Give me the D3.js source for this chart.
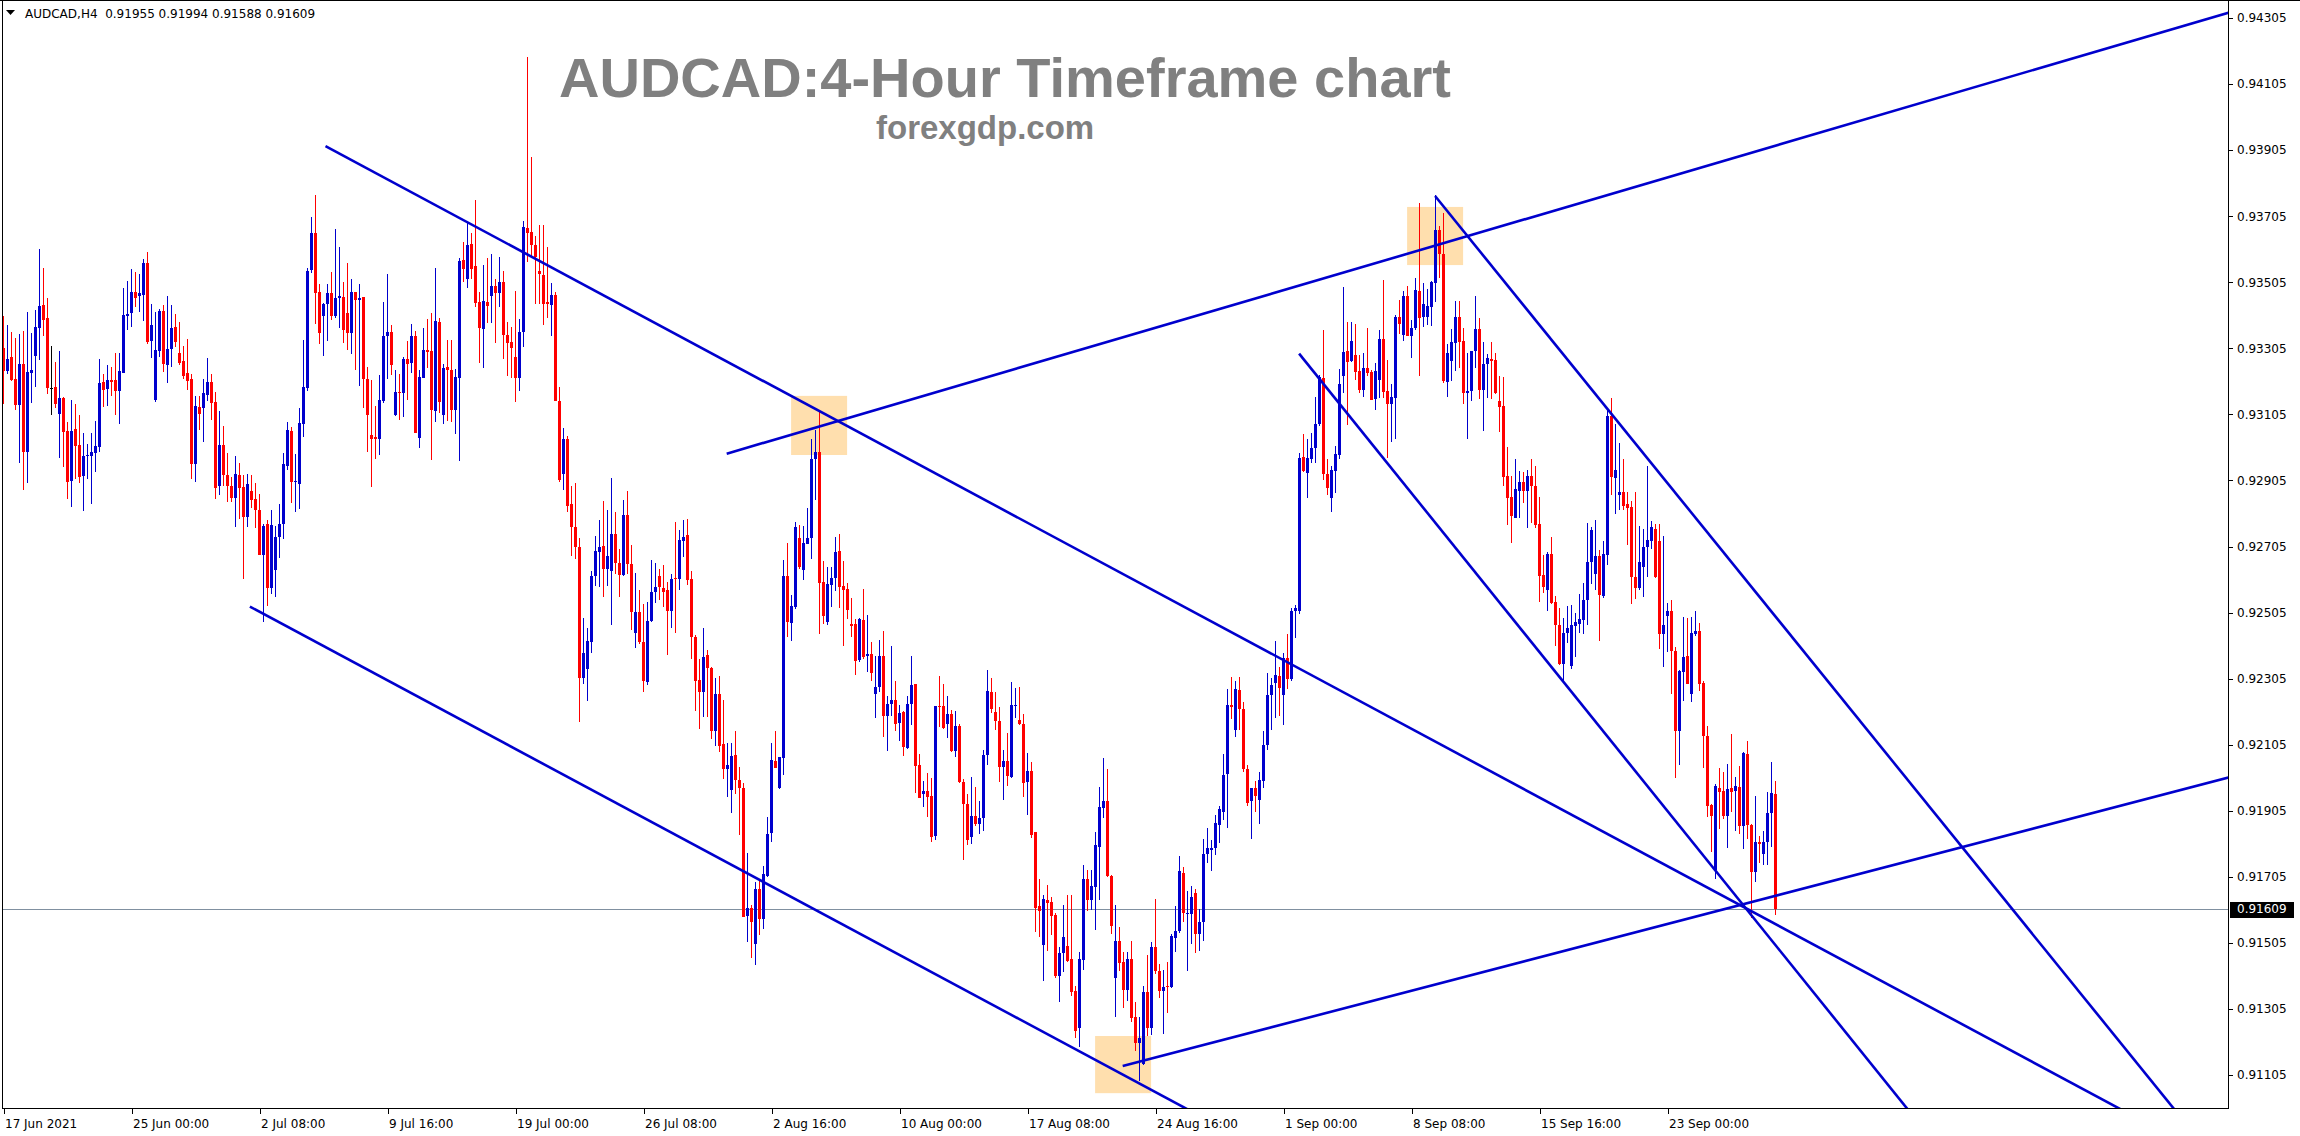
<!DOCTYPE html>
<html><head><meta charset="utf-8">
<script src="https://cdn.jsdelivr.net/npm/d3@7"></script>
<style>html,body{margin:0;padding:0;background:#fff;overflow:hidden}</style>
</head><body>
<svg id="chart" width="2300" height="1136"></svg>
<script>
const symbolInfo = "AUDCAD,H4  0.91955 0.91994 0.91588 0.91609";
const chartTitle = "AUDCAD:4-Hour Timeframe chart";
const chartSite = "forexgdp.com";
// prices in points (x 1e-5)
const opens = [93307,93237,93279,93212,93134,93257,92992,93230,93282,93367,
93436,93396,93186,93187,93107,93155,93055,92904,93060,93012,
92919,92979,92980,92989,93007,93203,93182,93209,93209,93175,
93231,93402,93412,93475,93462,93467,93563,93328,93148,93297,
93418,93254,93304,93369,93290,93266,93230,93212,92955,93127,
93125,93164,93203,93142,92889,93013,92922,92889,92853,92922,
92886,92793,92873,92849,92816,92678,92774,92578,92635,92734,
92772,92950,93055,92899,92893,93077,93184,93543,93653,93476,
93403,93438,93473,93403,93456,93461,93412,93352,93476,93450,
93461,93211,93042,93035,93029,93144,93341,93355,93102,93173,
93171,93273,93262,93343,93032,93216,93300,93297,93114,93385,
93102,93249,93240,93118,93216,93571,93515,93622,93553,93445,
93362,93445,93462,93494,93471,93506,93345,93325,93278,93216,
93354,93670,93657,93619,93539,93526,93445,93435,93465,93145,
92925,93029,92833,92763,92703,92306,92333,92416,92616,92689,
92706,92636,92632,92743,92656,92619,92799,92652,92443,92507,
92417,92294,92479,92566,92616,92580,92573,92510,92610,92606,
92722,92739,92606,92431,92300,92265,92377,92336,92146,92258,
92106,92031,91969,92073,91998,91974,91586,91610,91502,91667,
91577,91707,91838,92056,91974,92065,92615,92474,92521,92730,
92633,92713,92730,92969,92990,92597,92476,92588,92610,92691,
92585,92575,92470,92470,92361,92482,92375,92381,92258,92279,
92375,92192,92228,92240,92172,92205,92094,92227,92289,92044,
91956,91965,91950,91829,92222,92222,92168,92198,92087,92162,
91991,91925,91827,91889,91865,91884,92074,92266,92205,92177,
92036,92056,92006,92223,92180,92168,91993,92025,91842,91617,
91499,91635,91630,91590,91405,91474,91496,91455,91358,91247,
91453,91699,91635,91675,91796,91914,91934,91707,91399,91512,
91447,91361,91455,91280,91201,91139,91356,91248,91493,91420,
91358,91374,91371,91520,91540,91718,91593,91593,91655,91532,
91569,91775,91785,91791,91861,91901,92015,92226,92148,92270,
92213,92031,91934,91974,91939,91995,92104,92255,92291,92312,
92255,92367,92304,92510,92510,92975,92928,92969,93004,93077,
93215,92925,92853,92935,92983,93220,93297,93267,93285,93235,
93179,93245,93232,93151,93210,93334,93176,93137,93156,93401,
93346,93462,93341,93368,93479,93399,93401,93429,93504,93662,
93591,93202,93267,93321,93401,93326,93171,93176,93297,93364,
93179,93258,93273,93270,93146,93129,92919,92856,92791,92872,
92899,92872,92917,92889,92773,92619,92574,92682,92536,92468,
92350,92444,92344,92463,92471,92482,92544,92657,92621,92677,
92556,92680,93101,92912,92861,92869,92834,92825,92612,92580,
92642,92702,92722,92758,92723,92441,92495,92509,92390,92147,
92326,92374,92257,92441,92450,92293,92131,91922,91726,91974,
91966,91890,91974,91966,91976,91858,92077,91861,91720,91810,
91774,91810,91899,91955];
const highs = [93402,93375,93354,93337,93348,93357,93414,93351,93422,93605,
93548,93457,93312,93264,93296,93158,93083,93148,93137,93103,
93049,93015,93049,93086,93273,93228,93254,93248,93290,93291,
93487,93509,93545,93537,93531,93575,93596,93440,93416,93424,
93436,93463,93436,93409,93384,93312,93333,93227,93160,93160,
93212,93276,93226,93172,93116,93070,92988,92914,92980,92957,
92921,92925,92920,92897,92865,92774,92786,92815,92766,92834,
92989,93082,93067,92986,93125,93331,93548,93704,93768,93500,
93441,93499,93535,93667,93613,93507,93564,93515,93476,93500,
93461,93247,93210,93131,93223,93444,93530,93376,93240,93228,
93280,93328,93379,93358,93240,93367,93395,93412,93549,93396,
93259,93329,93329,93242,93578,93627,93686,93655,93754,93474,
93557,93578,93590,93515,93582,93539,93386,93369,93478,93395,
93691,94188,93883,93646,93677,93677,93611,93502,93475,93189,
93063,93041,92889,92896,92732,92490,92459,92630,92736,92785,
92843,92816,92913,92809,92696,92845,92873,92710,92626,92572,
92532,92536,92663,92656,92636,92649,92599,92622,92778,92756,
92784,92787,92631,92437,92364,92458,92391,92339,92308,92314,
92241,92110,92110,92146,92036,91989,91776,91619,91690,91692,
91739,91885,92110,92146,92067,92663,92715,92558,92778,92771,
92767,92821,93030,93058,93114,92661,92644,92644,92734,92743,
92661,92594,92549,92487,92489,92575,92498,92417,92373,92423,
92448,92252,92404,92298,92225,92208,92252,92374,92289,92077,
91995,92020,92005,92222,92313,92289,92252,92210,92207,92167,
92000,91956,92008,91976,91936,92089,92331,92308,92266,92220,
92089,92139,92295,92276,92281,92198,92079,92053,91842,91699,
91650,91680,91645,91595,91492,91620,91650,91650,91373,91476,
91741,91726,91726,91840,91978,92064,92031,91710,91621,91553,
91476,91476,91512,91326,91280,91374,91467,91509,91637,91442,
91423,91447,91532,91618,91768,91734,91661,91677,91669,91609,
91820,91853,91815,91893,91918,92077,92274,92310,92299,92310,
92234,92044,91974,91995,92023,92145,92323,92307,92420,92339,
92383,92441,92518,92529,92988,93045,93029,93048,93158,93223,
93361,92969,92949,93008,93242,93492,93386,93386,93379,93285,
93290,93368,93240,93260,93361,93512,93270,93197,93406,93452,
93477,93494,93391,93517,93746,93504,93485,93510,93770,93674,
93716,93318,93364,93447,93447,93366,93290,93297,93462,93398,
93324,93288,93323,93290,93220,93217,93005,92917,92970,92935,
92932,92937,92970,92950,92856,92680,92688,92733,92556,92520,
92490,92526,92528,92504,92560,92594,92776,92763,92785,92693,
92722,93120,93155,93077,93017,92971,92871,92844,92871,92767,
92758,92949,92782,92772,92772,92736,92534,92542,92401,92331,
92493,92488,92493,92509,92474,92299,92161,91926,91985,92034,
92023,92048,92136,92007,92039,92084,92115,91864,91949,91830,
91845,91963,92052,91994];
const lows = [93135,93227,93206,93119,92958,92877,92896,93140,93189,93269,
93343,93167,93104,93125,92974,92946,92849,92825,92910,92898,
92813,92910,92834,92931,92990,93128,93131,93160,93104,93075,
93231,93361,93370,93431,93415,93388,93318,93276,93142,93279,
93233,93200,93249,93310,93255,93213,93178,92910,92901,93058,
93022,93144,93088,92850,92862,92887,92841,92840,92763,92788,
92608,92765,92823,92760,92678,92475,92524,92560,92551,92669,
92729,92937,92838,92809,92818,93035,93177,93532,93379,93317,
93283,93328,93391,93396,93367,93322,93300,93288,93240,93192,
93125,92990,92884,92971,92981,93138,93213,93223,93099,93087,
93096,93150,93230,93050,93002,93216,93244,92968,93083,93109,
93077,93086,93082,93047,92963,93507,93489,93515,93431,93260,
93246,93381,93382,93322,93431,93273,93220,93216,93142,93176,
93308,93565,93582,93438,93438,93376,93396,93342,93145,92899,
92876,92809,92676,92666,92173,92290,92237,92383,92586,92583,
92552,92586,92467,92623,92552,92615,92623,92452,92397,92410,
92263,92287,92476,92535,92543,92523,92377,92459,92442,92572,
92673,92588,92364,92207,92153,92190,92188,92123,92101,92084,
92000,91947,91899,91955,91832,91583,91507,91459,91437,91530,
91546,91703,91810,92034,91972,92013,92431,92420,92515,92638,
92603,92713,92666,92846,92440,92470,92468,92521,92569,92519,
92403,92485,92431,92317,92356,92364,92325,92297,92185,92263,
92129,92087,92192,92145,92117,92071,92091,92165,91960,91943,
91917,91887,91810,91817,92158,92152,92126,92082,92069,91990,
91756,91801,91805,91859,91835,91845,92044,92202,92148,91993,
91938,91981,92003,92187,92165,91948,91892,91824,91538,91524,
91391,91479,91529,91398,91327,91418,91448,91344,91216,91191,
91423,91600,91605,91544,91635,91884,91703,91532,91282,91420,
91309,91330,91264,91178,91087,91134,91223,91227,91410,91337,
91228,91293,91369,91476,91535,91569,91420,91501,91475,91480,
91512,91747,91723,91772,91807,91877,91853,92182,92128,92148,
92023,91918,91820,91901,91866,91974,92088,92148,92185,92193,
92164,92274,92299,92429,92501,92931,92853,92959,92959,93069,
92907,92860,92808,92867,92969,93169,93073,93265,93210,93171,
93159,93220,93149,93119,93154,93154,92974,93020,93031,93349,
93326,93341,93277,93361,93220,93369,93376,93374,93444,93517,
93200,93159,93205,93235,93245,93136,93030,93146,93245,93151,
93056,93154,93152,93166,93053,92889,92769,92717,92791,92791,
92836,92761,92776,92761,92536,92564,92509,92531,92404,92347,
92299,92412,92333,92369,92444,92439,92468,92590,92574,92420,
92549,92650,92861,92804,92817,92815,92709,92531,92547,92574,
92553,92612,92698,92610,92396,92340,92385,92257,92003,92044,
92236,92288,92234,92434,92268,92034,91886,91780,91699,91850,
91879,91793,91901,91845,91834,91790,91818,91580,91688,91747,
91742,91742,91796,91588];
const closes = [93236,93272,93209,93134,93259,92992,93233,93239,93369,93433,
93391,93185,93186,93135,93154,93052,92901,93055,93010,92916,
92979,92982,92991,93009,93200,93180,93210,93203,93176,93236,
93405,93409,93475,93458,93472,93563,93324,93375,93299,93418,
93257,93302,93367,93324,93260,93222,93207,92955,93131,93107,
93169,93203,93140,92883,93012,92922,92887,92853,92924,92881,
92795,92895,92847,92814,92678,92768,92578,92771,92734,92774,
92955,93058,92899,92902,93079,93188,93540,93653,93471,93352,
93438,93473,93403,93458,93464,93359,93352,93476,93450,93458,
93211,93102,93029,93029,93149,93343,93355,93253,93173,93171,
93273,93259,93343,93050,93219,93300,93295,93117,93388,93141,
93246,93238,93118,93218,93569,93546,93618,93546,93442,93365,
93449,93434,93494,93471,93506,93345,93322,93306,93216,93354,
93673,93655,93619,93582,93529,93439,93439,93465,93145,92905,
93029,92829,92763,92703,92306,92383,92419,92616,92692,92703,
92636,92676,92743,92656,92619,92799,92652,92507,92507,92417,
92297,92479,92566,92583,92583,92566,92510,92606,92606,92725,
92734,92603,92431,92297,92265,92370,92336,92146,92258,92101,
92031,92043,92071,91998,91974,91583,91610,91569,91667,91577,
91714,91835,92059,92034,92067,92615,92476,92524,92764,92644,
92715,92730,92969,92990,92594,92495,92591,92610,92689,92582,
92573,92513,92465,92358,92485,92370,92381,92323,92279,92375,
92193,92228,92240,92167,92200,92097,92227,92286,92039,91943,
91965,91948,91827,92222,92220,92157,92198,92087,92162,91993,
91925,91815,91889,91865,91882,92074,92268,92213,92177,92036,
92056,92010,92225,92225,92167,91990,92025,91832,91612,91600,
91638,91625,91587,91405,91474,91524,91450,91355,91238,91456,
91699,91635,91677,91801,91917,91935,91707,91556,91512,91444,
91361,91455,91277,91201,91217,91356,91248,91493,91420,91358,
91371,91371,91525,91540,91723,91596,91596,91645,91532,91569,
91775,91793,91791,91869,91909,92012,92226,92218,92274,92213,
92031,91929,91974,91950,91999,92104,92255,92286,92315,92278,
92368,92304,92510,92518,92972,92935,92972,93004,93077,93218,
92923,92882,92937,92986,93196,93294,93265,93328,93232,93179,
93245,93230,93149,93237,93334,93174,93137,93159,93401,93379,
93462,93341,93368,93482,93396,93440,93432,93507,93662,93590,
93205,93290,93324,93401,93323,93171,93177,93297,93364,93179,
93258,93277,93267,93169,93126,92914,92851,92796,92880,92900,
92872,92917,92889,92771,92616,92582,92682,92533,92466,92350,
92444,92458,92468,92477,92486,92544,92657,92756,92677,92558,
92682,93101,92915,92938,92871,92828,92823,92612,92580,92657,
92704,92724,92763,92614,92441,92468,92509,92390,92147,92329,
92371,92290,92444,92450,92288,92131,91918,91888,91980,91963,
91890,91972,91963,91980,91858,92079,91861,91720,91810,91803,
91810,91899,91960,91609];
const timeLabels = ["17 Jun 2021","25 Jun 00:00","2 Jul 08:00","9 Jul 16:00","19 Jul 00:00","26 Jul 08:00","2 Aug 16:00","10 Aug 00:00","17 Aug 08:00","24 Aug 16:00","1 Sep 00:00","8 Sep 08:00","15 Sep 16:00","23 Sep 00:00"];
const timeLabelBars = [0,32,64,96,128,160,192,224,256,288,320,352,384,416];
const priceTicks = [0.91105,0.91305,0.91505,0.91705,0.91905,0.92105,0.92305,0.92505,0.92705,0.92905,0.93105,0.93305,0.93505,0.93705,0.93905,0.94105,0.94305];
const lastPrice = 0.91609;
// trend lines: [bar1, price1, bar2, price2] (rays to the right)
const trendBar1 = [80.5, 61.6, 180.8, 279.8, 323.9, 357.9];
const trendPrice1 = [0.93917, 0.92523, 0.92986, 0.91132, 0.93289, 0.93766];
const trendBar2 = [208.1, 293.1, 555.9, 446.6, 439.95, 446.6];
const trendPrice2 = [0.93088, 0.91020, 0.94320, 0.91659, 0.91544, 0.92439];
// highlight rectangles: bar from/to, price top/bottom
const boxBarFrom = [196.9, 350.9, 272.9];
const boxBarTo = [210.9, 364.9, 286.9];
const boxPriceTop = [0.93161, 0.93733, 0.91223];
const boxPriceBottom = [0.92982, 0.93557, 0.91050];

const plotLeft = 2, plotTop = 1, plotRight = 2228, plotBottom = 1108;
const svg = d3.select("#chart");
const x = d3.scaleLinear().domain([0, 443]).range([3.5, 1775.5]);
const y = d3.scaleLinear().domain([0.91105, 0.94305]).range([1075, 18]);
const P = v => v / 1e5;
const bars = d3.range(opens.length).map(i => ({i, o: P(opens[i]), h: P(highs[i]), l: P(lows[i]), c: P(closes[i])}));
const colUp = "#0000cd", colDn = "#ff0000";
const color = d => d.c > d.o ? colUp : (d.c < d.o ? colDn : "#000000");
const font = "'DejaVu Sans', sans-serif";

svg.append("rect").attr("width", 2300).attr("height", 1136).attr("fill", "#fff");
svg.append("defs").append("clipPath").attr("id", "plotclip").append("rect")
  .attr("x", plotLeft).attr("y", plotTop).attr("width", plotRight - plotLeft).attr("height", plotBottom - plotTop);
const plot = svg.append("g").attr("clip-path", "url(#plotclip)");

// highlight boxes
plot.selectAll("rect.box").data(d3.range(boxBarFrom.length)).join("rect").attr("class", "box")
  .attr("x", k => x(boxBarFrom[k])).attr("width", k => x(boxBarTo[k]) - x(boxBarFrom[k]))
  .attr("y", k => y(boxPriceTop[k])).attr("height", k => y(boxPriceBottom[k]) - y(boxPriceTop[k]))
  .attr("fill", "#ffdfae");

// title texts
svg.append("text").attr("x", 559).attr("y", 97).text(chartTitle)
  .attr("font-family", "'Liberation Sans', Arial, sans-serif").attr("font-weight", "bold")
  .attr("font-size", 56).attr("fill", "#808080");
svg.append("text").attr("x", 876).attr("y", 139).text(chartSite)
  .attr("font-family", "'Liberation Sans', Arial, sans-serif").attr("font-weight", "bold")
  .attr("font-size", 33).attr("fill", "#808080");

// last price line
plot.append("line").attr("x1", plotLeft).attr("x2", plotRight)
  .attr("y1", Math.round(y(lastPrice)) + 0.5).attr("y2", Math.round(y(lastPrice)) + 0.5)
  .attr("stroke", "#8090a0").attr("stroke-width", 1);

// candles
plot.selectAll("line.wick").data(bars).join("line").attr("class", "wick")
  .attr("x1", d => x(d.i)).attr("x2", d => x(d.i))
  .attr("y1", d => y(d.h)).attr("y2", d => y(d.l))
  .attr("stroke", color).attr("stroke-width", 1).attr("shape-rendering", "crispEdges");
plot.selectAll("rect.body").data(bars).join("rect").attr("class", "body")
  .attr("x", d => x(d.i) - 1.5).attr("width", 3)
  .attr("y", d => y(Math.max(d.o, d.c)))
  .attr("height", d => Math.max(1, Math.abs(y(d.o) - y(d.c))))
  .attr("fill", color).attr("shape-rendering", "crispEdges");

// trend lines (rays)
const barEnd = x.invert(plotRight + 20);
plot.selectAll("line.trend").data(d3.range(trendBar1.length)).join("line").attr("class", "trend")
  .attr("x1", k => x(trendBar1[k])).attr("y1", k => y(trendPrice1[k]))
  .attr("x2", x(barEnd))
  .attr("y2", k => y(trendPrice1[k] + (trendPrice2[k] - trendPrice1[k]) / (trendBar2[k] - trendBar1[k]) * (barEnd - trendBar1[k])))
  .attr("stroke", colUp).attr("stroke-width", 2.6);

// frame
const frame = svg.append("g").attr("stroke", "#000").attr("stroke-width", 1).attr("shape-rendering", "crispEdges");
frame.append("line").attr("x1", 0).attr("x2", 2300).attr("y1", 0.5).attr("y2", 0.5);
frame.append("line").attr("x1", 2.5).attr("x2", 2.5).attr("y1", 0).attr("y2", plotBottom);
frame.append("line").attr("x1", plotRight + 0.5).attr("x2", plotRight + 0.5).attr("y1", 0).attr("y2", plotBottom + 1);
frame.append("line").attr("x1", 2).attr("x2", plotRight + 1).attr("y1", plotBottom + 0.5).attr("y2", plotBottom + 0.5);

// right price axis
const yAxis = svg.append("g").attr("transform", `translate(${plotRight + 1},0)`)
  .call(d3.axisRight(y).tickValues(priceTicks).tickFormat(d3.format(".5f")).tickSize(4).tickPadding(4));
yAxis.select(".domain").remove();
yAxis.selectAll("text").attr("font-family", font).attr("font-size", 12).attr("fill", "#000");
yAxis.selectAll("line").attr("stroke", "#000").attr("shape-rendering", "crispEdges");

// bottom time axis
const xAxis = svg.append("g").attr("transform", `translate(0,${plotBottom + 1})`)
  .call(d3.axisBottom(x).tickValues(timeLabelBars).tickFormat((d, k) => timeLabels[k]).tickSize(5));
xAxis.select(".domain").remove();
xAxis.selectAll("text").attr("font-family", font).attr("font-size", 12).attr("fill", "#000")
  .attr("text-anchor", "start").attr("x", 1).attr("y", 19).attr("dy", 0);
xAxis.selectAll("line").attr("stroke", "#000").attr("shape-rendering", "crispEdges");

// last price label
const ly = y(lastPrice);
svg.append("rect").attr("x", plotRight + 2).attr("y", Math.round(ly) - 7).attr("width", 64).attr("height", 16).attr("fill", "#000");
svg.append("text").attr("x", plotRight + 9).attr("y", ly + 4.5).text(d3.format(".5f")(lastPrice))
  .attr("font-family", font).attr("font-size", 12).attr("fill", "#fff");

// header
svg.append("path").attr("d", "M6,10 L15,10 L10.5,15 Z").attr("fill", "#000");
svg.append("text").attr("x", 25).attr("y", 18).text(symbolInfo).attr("xml:space", "preserve")
  .style("white-space", "pre").attr("font-family", font).attr("font-size", 12).attr("fill", "#000");
</script>
</body></html>
